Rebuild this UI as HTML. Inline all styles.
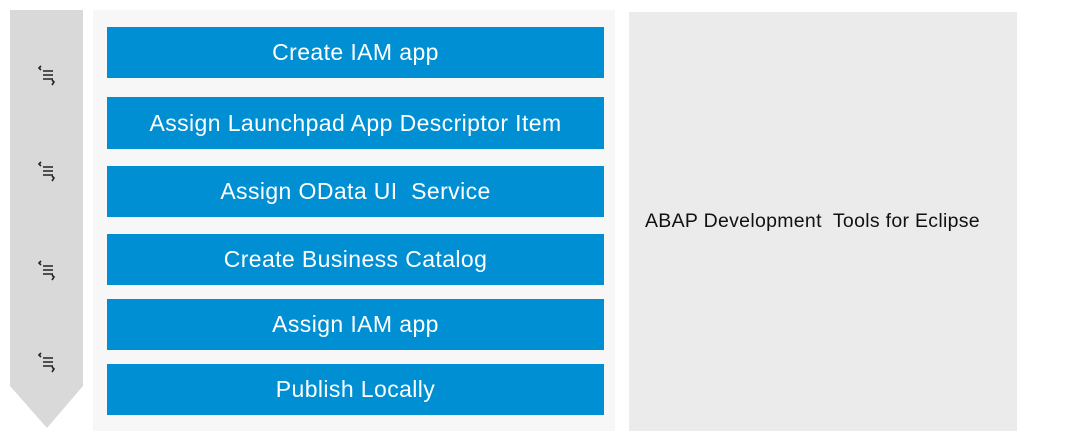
<!DOCTYPE html>
<html><head><style>
body{margin:0;width:1080px;height:440px;background:#fff;position:relative;overflow:hidden;font-family:"Liberation Sans",sans-serif}
.b{position:absolute;left:107px;width:497px;background:#008fd3;color:#fff;font-size:23px;display:flex;align-items:center;justify-content:center;letter-spacing:0.4px}
</style></head><body>
<svg style="position:absolute;left:0;top:0" width="100" height="440"><polygon points="10,10 83,10 83,386 47,428 10,386" fill="#d9d9d9"/></svg>
<div style="position:absolute;left:93px;top:10px;width:522px;height:421px;background:#f7f7f7"></div>
<div style="position:absolute;left:629px;top:12px;width:388px;height:419px;background:#ebebeb"></div>
<div style="position:absolute;left:645px;top:210px;font-size:19.5px;letter-spacing:0.3px;color:#111">ABAP Development&nbsp; Tools for Eclipse</div>
<div class="b" style="top:27px;height:51px">Create IAM app</div>
<div class="b" style="top:97px;height:52px">Assign Launchpad App Descriptor Item</div>
<div class="b" style="top:166px;height:51px">Assign OData UI&nbsp; Service</div>
<div class="b" style="top:234px;height:51px">Create Business Catalog</div>
<div class="b" style="top:299px;height:51px">Assign IAM app</div>
<div class="b" style="top:364px;height:51px">Publish Locally</div>
<svg style="position:absolute;left:0;top:0" width="100" height="440">
<g fill="none" stroke="#222" stroke-width="1.6">
<g transform="translate(37,66)"><path d="M4 0 l-2 2 l2 2 M6 5 h10 M6 9 h10 M6 13 h10 M15 14 l2 2 l-2 3"/></g>
<g transform="translate(37,162)"><path d="M4 0 l-2 2 l2 2 M6 5 h10 M6 9 h10 M6 13 h10 M15 14 l2 2 l-2 3"/></g>
<g transform="translate(37,261)"><path d="M4 0 l-2 2 l2 2 M6 5 h10 M6 9 h10 M6 13 h10 M15 14 l2 2 l-2 3"/></g>
<g transform="translate(37,353)"><path d="M4 0 l-2 2 l2 2 M6 5 h10 M6 9 h10 M6 13 h10 M15 14 l2 2 l-2 3"/></g>
</g></svg>
</body></html>
